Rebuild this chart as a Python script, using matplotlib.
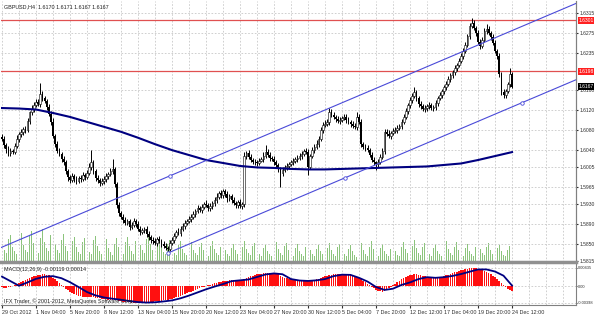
import matplotlib.pyplot as plt
import numpy as np

plt.rcParams['font.family'] = ['Liberation Sans', 'DejaVu Sans']

# GBPUSD H4 closes, in pips above 1.5800 (one value per bar)
closes = [
    262, 250, 241, 233, 238, 236, 248, 262, 271, 276,
    281, 279, 298, 315, 322, 331, 337, 333, 352, 344,
    338, 326, 312, 296, 268, 252, 238, 231, 222, 214,
    196, 184, 178, 186, 180, 176, 183, 181, 188, 185,
    192, 205, 214, 196, 183, 178, 172, 176, 181, 186,
    190, 196, 200, 170, 128, 112, 104, 98, 92, 95,
    84, 88, 95, 90, 80, 73, 77, 80, 70, 63,
    58, 55, 52, 60, 56, 50, 46, 42, 40, 52,
    58, 66, 74, 72, 80, 86, 92, 96, 100, 104,
    110, 116, 122, 118, 125, 130, 128, 122, 126, 132,
    138, 145, 152, 148, 156, 150, 142, 146, 138, 132,
    128, 134, 126, 130, 228, 234, 226, 220, 216, 214,
    213, 218, 222, 228, 236, 230, 224, 222, 214, 208,
    200, 192, 198, 204, 206, 210, 214, 218, 222, 224,
    228, 232, 238, 236, 205, 228, 240, 246, 252, 262,
    280, 290, 292, 296, 316, 310, 305, 302, 298, 300,
    304, 306, 300, 296, 292, 288, 286, 306, 296, 252,
    246, 244, 240, 230, 220, 214, 210, 216, 226, 238,
    276, 272, 268, 274, 278, 280, 284, 288, 296, 306,
    318, 330, 340, 348, 356, 344, 332, 328, 322, 324,
    328, 330, 324, 326, 334, 344, 350, 358, 366, 372,
    382, 390, 396, 404, 410, 420, 430, 440, 452, 470,
    490, 496, 486, 476, 458, 450, 462, 480, 484, 476,
    468, 456, 440, 430, 392, 356, 350, 358, 372, 392, 367]
first_open = 266

wick_up = [
    6, 5, 4, 7, 5, 4, 6, 8, 5, 6, 5, 7, 6, 4, 8, 5, 6, 5, 23, 6,
    5, 4, 6, 5, 7, 4, 5, 6, 4, 5, 6, 5, 4, 6, 5, 7, 4, 5, 6, 5,
    6, 8, 25, 5, 4, 6, 5, 7, 5, 6, 5, 6, 22, 4, 5, 6, 4, 5, 6, 4,
    5, 6, 7, 4, 5, 6, 5, 4, 6, 5, 4, 5, 6, 4, 5, 4, 6, 5, 4, 6,
    5, 6, 4, 7, 5, 6, 5, 4, 6, 5, 6, 5, 7, 4, 6, 5, 8, 5, 6, 4,
    6, 7, 5, 6, 4, 5, 6, 5, 4, 6, 5, 4, 6, 5, 8, 4, 6, 5, 4, 6,
    5, 6, 4, 7, 13, 5, 6, 4, 5, 6, 5, 4, 6, 5, 6, 4, 5, 6, 4, 5,
    6, 5, 4, 6, 5, 4, 6, 5, 7, 6, 5, 6, 7, 5, 8, 6, 5, 4, 6, 5,
    4, 5, 6, 5, 4, 6, 5, 10, 6, 5, 4, 6, 5, 4, 6, 5, 4, 5, 6, 5,
    6, 5, 7, 4, 6, 5, 6, 4, 5, 6, 6, 5, 7, 6, 10, 5, 4, 6, 5, 6,
    5, 6, 4, 5, 6, 5, 6, 4, 5, 6, 6, 5, 4, 6, 5, 6, 5, 6, 5, 4,
    6, 10, 5, 4, 6, 5, 6, 5, 10, 5, 4, 6, 5, 4, 6, 5, 6, 5, 4, 12,
    4]
wick_dn = [
    5, 6, 7, 5, 6, 4, 5, 4, 6, 5, 6, 5, 4, 6, 5, 6, 4, 5, 6, 5,
    4, 6, 5, 7, 5, 6, 5, 4, 6, 5, 6, 7, 5, 4, 6, 5, 4, 6, 5, 6,
    5, 4, 6, 5, 7, 5, 6, 4, 5, 6, 5, 4, 6, 5, 6, 7, 5, 6, 4, 5,
    6, 5, 4, 6, 5, 6, 4, 5, 6, 5, 6, 5, 4, 6, 5, 6, 4, 5, 9, 5,
    5, 6, 4, 5, 6, 5, 7, 4, 5, 6, 5, 6, 4, 5, 6, 5, 4, 6, 5, 6,
    5, 6, 4, 5, 6, 5, 7, 6, 5, 4, 6, 5, 4, 6, 5, 6, 5, 4, 6, 5,
    6, 5, 4, 6, 5, 4, 6, 5, 6, 5, 6, 27, 5, 4, 6, 5, 4, 6, 5, 6,
    5, 6, 4, 5, 16, 5, 4, 6, 5, 6, 5, 6, 4, 5, 6, 5, 4, 6, 5, 6,
    5, 4, 6, 5, 6, 5, 4, 6, 5, 6, 5, 6, 4, 5, 6, 5, 11, 6, 5, 4,
    6, 5, 4, 6, 5, 4, 6, 5, 6, 5, 4, 6, 5, 6, 4, 5, 6, 5, 4, 6,
    5, 6, 4, 5, 6, 5, 4, 6, 5, 6, 4, 5, 6, 5, 6, 4, 5, 6, 5, 4,
    6, 5, 4, 6, 5, 6, 5, 4, 6, 5, 6, 5, 4, 6, 5, 6, 6, 5, 4, 5,
    3]

volumes = [
    18, 12, 9, 23, 27, 15, 11, 8, 25, 29, 17, 12, 10, 26, 31, 19, 13, 9, 24, 33,
    20, 14, 11, 27, 30, 18, 12, 9, 22, 28, 16, 11, 8, 21, 25, 15, 10, 8, 20, 24,
    14, 10, 8, 22, 26, 16, 11, 8, 19, 23, 14, 10, 7, 18, 24, 15, 10, 8, 20, 25,
    16, 11, 8, 21, 26, 17, 12, 9, 23, 28, 18, 12, 8, 20, 24, 15, 10, 8, 18, 22,
    14, 9, 7, 17, 21, 13, 9, 7, 16, 20, 12, 9, 7, 15, 19, 12, 8, 6, 16, 21,
    13, 9, 7, 15, 20, 12, 8, 6, 14, 18, 12, 8, 6, 15, 21, 13, 9, 7, 16, 19,
    12, 8, 6, 14, 17, 11, 8, 6, 15, 20, 13, 9, 7, 16, 19, 12, 8, 6, 14, 18,
    11, 8, 6, 15, 20, 12, 8, 6, 13, 17, 11, 8, 6, 14, 19, 12, 8, 6, 15, 18,
    12, 8, 6, 13, 17, 11, 7, 5, 14, 19, 12, 8, 6, 15, 21, 13, 8, 6, 14, 18,
    11, 8, 6, 13, 17, 11, 7, 6, 15, 20, 13, 9, 7, 16, 22, 14, 9, 7, 15, 19,
    12, 8, 6, 14, 18, 11, 8, 6, 16, 21, 13, 9, 7, 15, 20, 12, 8, 6, 14, 18,
    11, 8, 6, 15, 22, 13, 9, 7, 15, 19, 12, 8, 6, 14, 17, 11, 7, 6, 12, 16,
    9]

# moving average, one value every 8 bars (pips above 1.5800)
ma_vals = [324, 323, 321, 314, 306, 296, 286, 276, 264, 251, 239, 229, 219, 213, 207, 204,
           203, 201, 200, 200, 201, 202, 203, 204, 205, 206, 209, 212, 219, 227, 235]

# MACD main (histogram), 1e-5 units, one per bar
macd_main = [
    -30, -38, -35, -25, -10, 10, 35, 60, 80, 100,
    125, 150, 175, 200, 220, 240, 255, 265, 275, 280,
    282, 276, 262, 240, 205, 165, 120, 75, 30, -15,
    -60, -100, -135, -165, -190, -210, -225, -240, -250, -258,
    -262, -262, -265, -270, -278, -285, -292, -300, -308, -315,
    -320, -322, -322, -325, -335, -348, -360, -370, -378, -385,
    -390, -392, -394, -396, -398, -398, -396, -392, -388, -382,
    -378, -372, -366, -360, -352, -345, -338, -330, -322, -312,
    -298, -282, -265, -248, -230, -210, -190, -170, -150, -128,
    -108, -88, -68, -48, -30, -12, 5, 20, 35, 50,
    65, 80, 95, 108, 118, 128, 135, 138, 140, 142,
    140, 138, 135, 132, 160, 190, 215, 235, 252, 268,
    280, 290, 300, 308, 315, 320, 322, 318, 310, 300,
    280, 255, 230, 205, 185, 170, 160, 150, 142, 136,
    132, 130, 128, 126, 124, 128, 136, 150, 165, 182,
    200, 218, 235, 250, 262, 272, 280, 286, 290, 292,
    294, 292, 285, 275, 262, 248, 232, 218, 195, 160,
    125, 90, 55, 20, -15, -50, -80, -105, -125, -130,
    -115, -85, -50, -15, 20, 55, 90, 125, 160, 190,
    215, 240, 262, 275, 282, 280, 272, 262, 250, 238,
    226, 215, 205, 200, 200, 205, 215, 228, 242, 258,
    275, 292, 310, 328, 345, 362, 378, 392, 405, 416,
    425, 432, 435, 430, 418, 400, 380, 358, 335, 312,
    285, 255, 220, 175, 125, 70, 20, -30, -70, -100, -119]

# MACD signal, one value every 4 bars
macd_signal = [228, 120, 10, 90, 175, 225, 240, 190, 95, -20, -140, -220, -270, -300, -325, -355,
               -380, -392, -385, -365, -340, -290, -225, -150, -75, -10, 50, 120, 140, 160,
               220, 280, 305, 285, 170, 135, 125, 140, 170, 240, 275, 270, 200, 110, -20, -90,
               -60, 30, 90, 170, 215, 200, 215, 245, 290, 345, 400, 400, 350, 250, 14]

# channel: two anchor points on the lower line, one on the upper line
chan_lo_x = [78, 161.4]
chan_lo_v = [31, 183]
chan_up_x = 79
chan_up_v = 187

red_levels = [1.6301, 1.6198]
last_price = 1.6167
price_ticks = [1.6315, 1.6275, 1.6235, 1.6160, 1.6120, 1.6080, 1.6040, 1.6005,
               1.5965, 1.5930, 1.5890, 1.5850, 1.5815]
time_labels = ['29 Oct 2012', '1 Nov 04:00', '5 Nov 20:00', '8 Nov 12:00', '13 Nov 04:00',
               '15 Nov 20:00', '20 Nov 12:00', '23 Nov 04:00', '27 Nov 20:00', '30 Nov 12:00',
               '5 Dec 04:00', '7 Dec 20:00', '12 Dec 12:00', '17 Dec 04:00', '19 Dec 20:00',
               '24 Dec 12:00']

base = 1.58
pip = 1e-4
fs = 3.9

n = len(closes)
idx = np.arange(n)
c = base + np.array(closes) * pip
o = np.r_[base + first_open * pip, c[:-1]]
hi = np.maximum(o, c) + np.array(wick_up) * pip
lo = np.minimum(o, c) - np.array(wick_dn) * pip

fig = plt.figure(figsize=(5.96, 3.16), dpi=100)
ax = fig.add_axes([1 / 596, 1 - 262 / 316, 575 / 596, 261 / 316])
axm = fig.add_axes([1 / 596, 1 - 305 / 316, 575 / 596, 41 / 316])
axv = ax.twinx()

xmin, xmax = -0.47, 270.1
grid_kw = dict(color='#c8c8c8', lw=0.6, ls=(0, (2, 2)))

# volumes
axv.bar(idx, volumes, width=0.4, color='#8cc47c', lw=0)
axv.set_ylim(0, 261)
axv.set_yticks([])
axv.set_xlim(xmin, xmax)
ax.set_zorder(axv.get_zorder() + 1)
ax.patch.set_visible(False)
axv.patch.set_facecolor('white')

# grid
for gx in range(0, 271, 8):
    ax.axvline(gx, zorder=0, **grid_kw)
    axm.axvline(gx, zorder=0, **grid_kw)
for gy in price_ticks:
    ax.axhline(gy, zorder=0, **grid_kw)

# candles
ax.vlines(idx, lo, hi, color='black', lw=0.7, zorder=3)
bottoms = np.minimum(o, c)
heights = np.maximum(np.abs(c - o), 0.8 * pip)
bull = c >= o
ax.bar(idx[bull], heights[bull], bottom=bottoms[bull], width=0.8,
       facecolor='white', edgecolor='black', lw=0.4, zorder=4)
ax.bar(idx[~bull], heights[~bull], bottom=bottoms[~bull], width=0.8,
       color='black', lw=0, zorder=4)

# moving average
ax.plot(np.arange(0, n, 8), base + np.array(ma_vals) * pip, color='#000080', lw=1.5, zorder=5)

# channel
slope = (chan_lo_v[1] - chan_lo_v[0]) / (chan_lo_x[1] - chan_lo_x[0])
xs_lo = np.array([chan_lo_x[0], xmax])
ax.plot(xs_lo, base + (chan_lo_v[0] + slope * (xs_lo - chan_lo_x[0])) * pip,
        color='#4a4ad8', lw=0.8, zorder=5)
xs_up = np.array([xmin, xmax])
ax.plot(xs_up, base + (chan_up_v + slope * (xs_up - chan_up_x)) * pip,
        color='#4a4ad8', lw=0.8, zorder=5)
mk_x = [chan_lo_x[0], chan_up_x, chan_lo_x[1], 244.7]
mk_v = [chan_lo_v[0], chan_up_v, chan_lo_v[1], chan_lo_v[0] + slope * (244.7 - chan_lo_x[0])]
ax.plot(mk_x, base + np.array(mk_v) * pip, 'o', ms=2.5, mfc='white', mec='#4a4ad8', mew=0.6, zorder=6)

# red levels
for lv in red_levels:
    ax.axhline(lv, color='#e05050', lw=0.9, zorder=2)

ax.set_xlim(xmin, xmax)
ax.set_ylim(base + 13.0 * pip, base + 540.2 * pip)
ax.yaxis.tick_right()
ax.set_yticks(price_ticks)
ax.set_yticklabels(['%.4f' % t for t in price_ticks])
ax.tick_params(axis='y', labelsize=fs - 0.3, length=1.5, pad=1, colors='#303030')
ax.set_xticks([])
for s in ['top', 'left']:
    ax.spines[s].set_visible(False)
    axv.spines[s].set_visible(False)
ax.spines['right'].set_color('#808080')
axv.spines['right'].set_color('#808080')
ax.spines['bottom'].set_color('#909090')
ax.spines['bottom'].set_linewidth(2.5)
axv.spines['bottom'].set_visible(False)

lab_kw = dict(xycoords=('axes fraction', 'data'), fontsize=fs - 0.3, ha='left', va='center',
              color='white', annotation_clip=False)
for lv in red_levels:
    ax.annotate('%.4f' % lv, xy=(1.004, lv), **lab_kw,
                bbox=dict(boxstyle='square,pad=0.15', fc='#ff2020', ec='none'), zorder=10)
ax.annotate('%.4f' % last_price, xy=(1.004, last_price), **lab_kw,
            bbox=dict(boxstyle='square,pad=0.15', fc='black', ec='none'), zorder=10)

fig.text(4 / 596, 1 - 7 / 316, 'GBPUSD,H4  1.6170 1.6171 1.6167 1.6167', fontsize=fs,
         va='center', ha='left', color='#202020')

# MACD panel
axm.bar(idx, np.array(macd_main) * 1e-5, width=0.75, color='#ff1010', lw=0, zorder=2)
axm.plot(np.arange(0, n, 4), np.array(macd_signal) * 1e-5, color='#000080', lw=1.3, zorder=3)
axm.set_xlim(xmin, xmax)
axm.set_ylim(-0.0045, 0.0053)
axm.yaxis.tick_right()
axm.set_yticks([0.00435, 0.0, -0.00398])
axm.set_yticklabels(['0.00435', '0.00', '-0.00398'])
axm.tick_params(axis='y', labelsize=2.9, length=1, pad=0.5, colors='#303030')
axm.axhline(0.00435, zorder=0, **grid_kw)
axm.axhline(0.0, zorder=0, **grid_kw)
axm.axhline(-0.00398, zorder=0, **grid_kw)
axm.set_xticks(np.arange(0, 16 * len(time_labels), 16))
axm.set_xticklabels(time_labels, ha='left')
axm.tick_params(axis='x', labelsize=fs, length=2, pad=1.5, colors='#303030')
for s in ['top', 'left']:
    axm.spines[s].set_visible(False)
axm.spines['right'].set_color('#808080')
axm.spines['bottom'].set_color('#808080')
axm.text(0.006, 0.93, 'MACD(12,26,9) -0.00119 0.00014', transform=axm.transAxes,
         fontsize=fs, va='top', ha='left', color='#202020')
axm.text(0.006, 0.03, 'IFX Trader, \u00a9 2001-2012, MetaQuotes Software Corp.',
         transform=axm.transAxes, fontsize=fs, va='bottom', ha='left', color='#202020', zorder=5)

fig.savefig('out.png', dpi=100, facecolor='white')
